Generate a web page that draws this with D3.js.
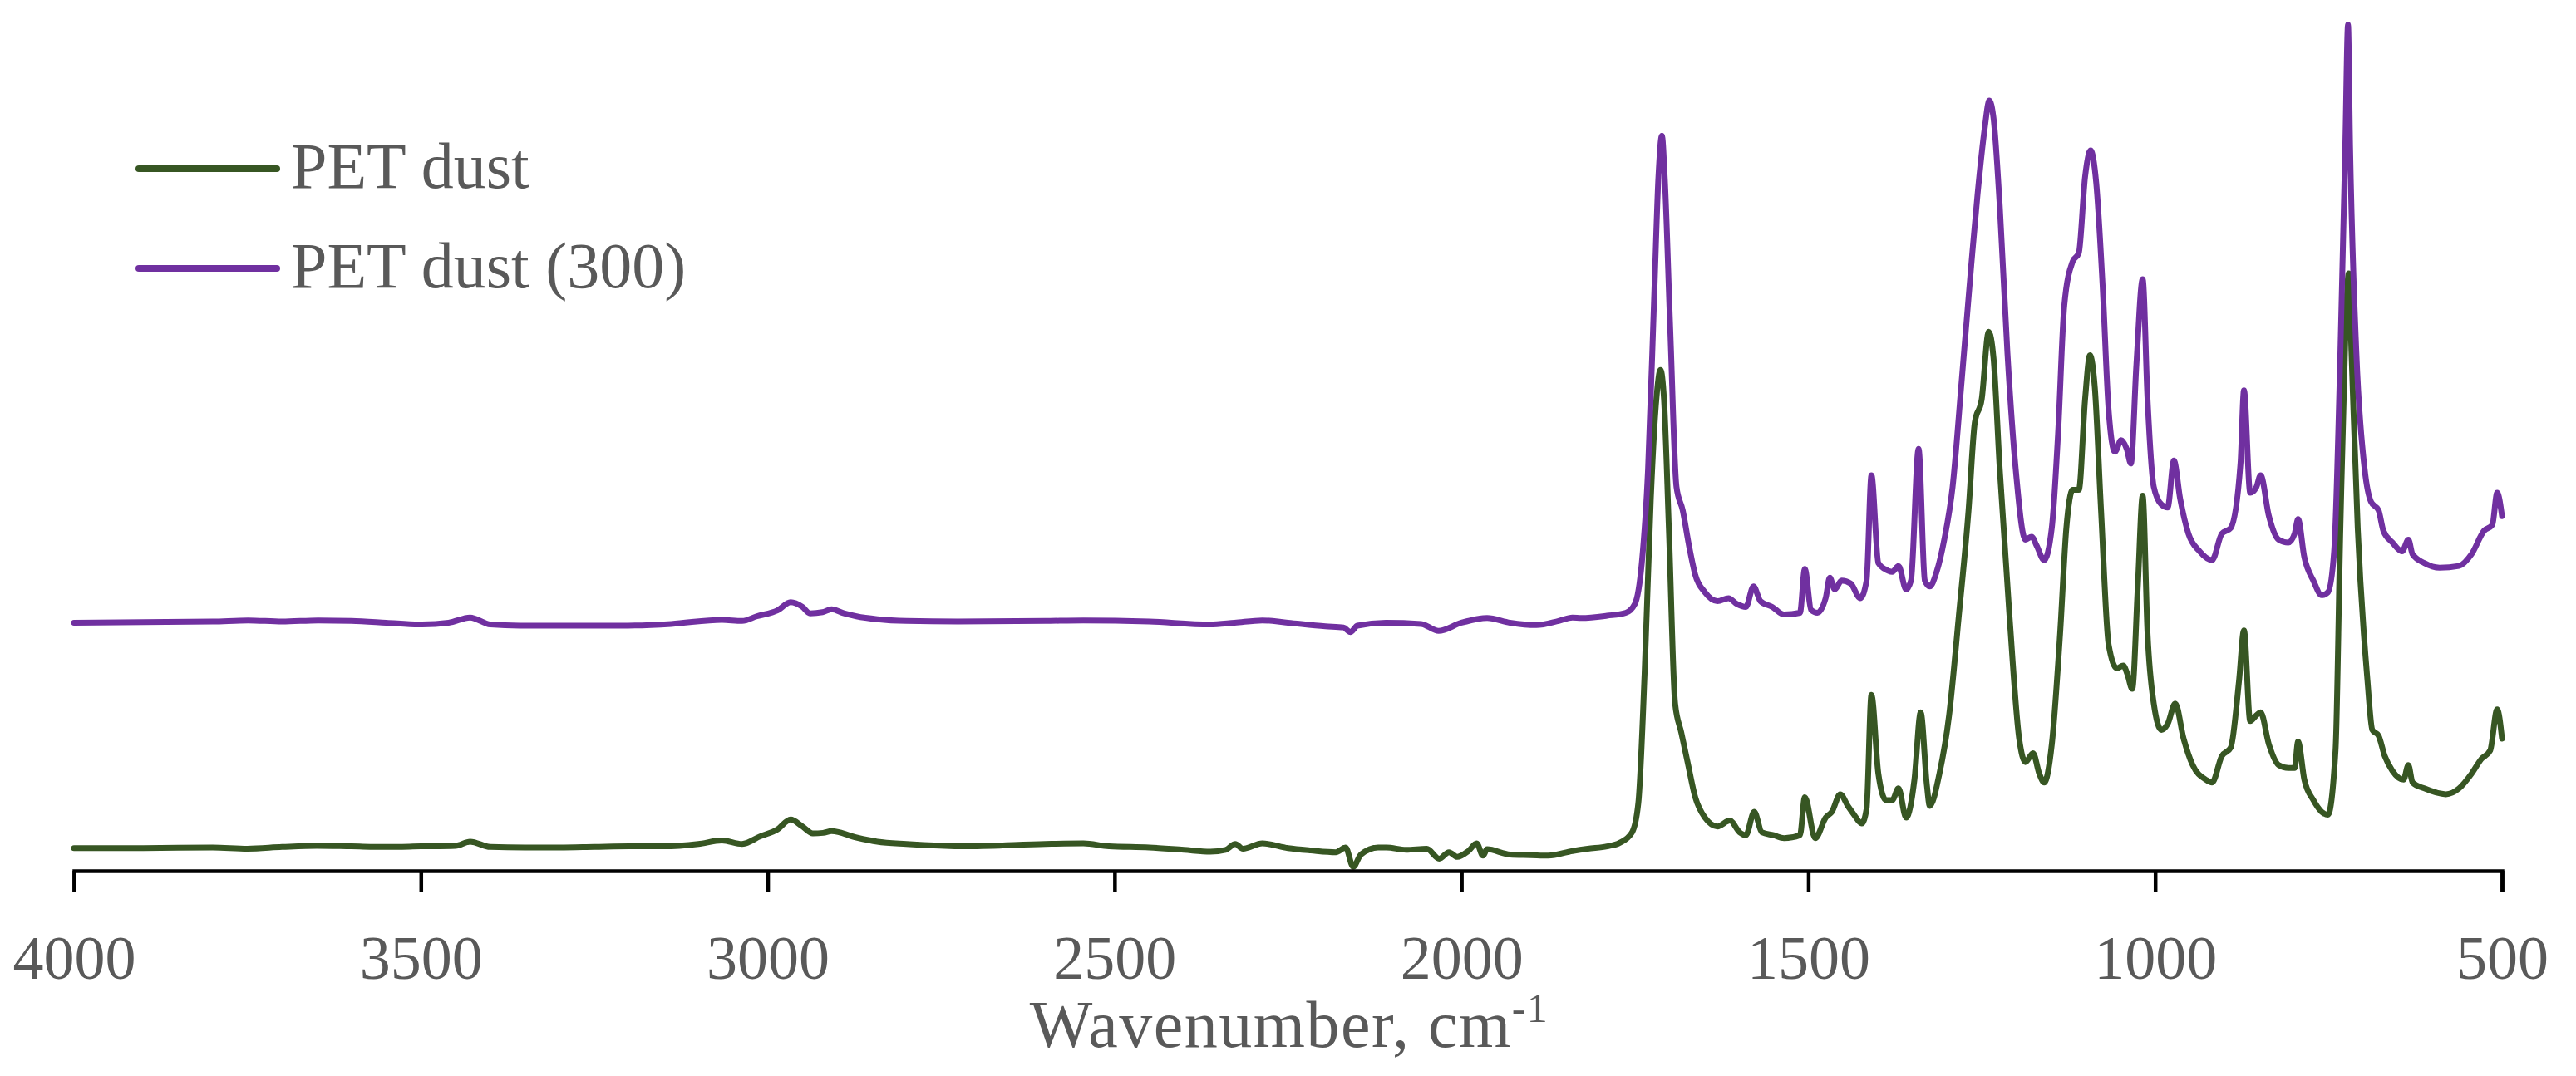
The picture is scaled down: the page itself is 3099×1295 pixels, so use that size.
<!DOCTYPE html>
<html>
<head>
<meta charset="utf-8">
<script src="https://cdn.jsdelivr.net/npm/d3@7"></script>
<style>
  html, body { margin: 0; padding: 0; background: #ffffff; }
  svg { display: block; }
</style>
</head>
<body>
<svg id="chart" width="3099" height="1295"></svg>
<script>
// ---------------- DATA ----------------
const seriesNames = ["PET dust", "PET dust (300)"];
const xTicks = [4000, 3500, 3000, 2500, 2000, 1500, 1000, 500];
const xLabel = "Wavenumber, cm";
const xLabelSup = "-1";

// PET dust (green) : wavenumber (cm-1) and absorbance (arbitrary, offset)
const petWn = [4000,3900,3800,3750,3700,3650,3600,3550,3500,3450,3429,3400,3350,3300,3250,3200,3150,3100,3066,3037,3011,2986,2967,2950,2935,2920,2908,2872,2842,2800,2710,2600,2545,2508,2450,2400,2362,2340,2326,2315,2287,2250,2217,2181,2167,2156,2145,2120,2108,2080,2050,2032,2018,2006,1990,1978,1969,1963,1930,1900,1875,1840,1818,1790,1772,1754,1745,1736,1727,1719,1713,1708,1701,1692,1683,1674,1663,1649,1631,1613,1599,1590,1578,1567,1550,1535,1512,1505,1490,1475,1466,1454,1443,1434,1423,1416,1409,1399,1388,1379,1370,1359,1347,1338,1329,1325,1311,1297,1283,1269,1260,1250,1240,1233,1224,1210,1196,1187,1176,1167,1160,1149,1137,1128,1119,1110,1101,1094,1087,1078,1067,1055,1046,1040,1033,1025,1018,1011,1002,991,982,971,959,946,927,918,904,891,879,872,863,854,848,836,822,808,799,794,785,772,760,751,740,733,726,721,717,708,694,687,678,669,658,642,635,629,612,581,562,544,530,517,507,500];
const petAbs = [0.043,0.043,0.044,0.042,0.045,0.047,0.046,0.045,0.046,0.047,0.054,0.045,0.044,0.044,0.045,0.046,0.046,0.050,0.056,0.050,0.063,0.075,0.092,0.080,0.068,0.069,0.072,0.061,0.054,0.050,0.046,0.050,0.051,0.046,0.044,0.040,0.037,0.040,0.050,0.042,0.051,0.043,0.039,0.036,0.044,0.011,0.032,0.044,0.044,0.040,0.042,0.025,0.036,0.028,0.038,0.051,0.030,0.041,0.032,0.031,0.030,0.038,0.042,0.046,0.052,0.070,0.120,0.340,0.640,0.810,0.860,0.810,0.590,0.290,0.240,0.190,0.130,0.095,0.080,0.090,0.070,0.065,0.105,0.070,0.065,0.060,0.065,0.130,0.060,0.095,0.105,0.135,0.115,0.100,0.085,0.110,0.305,0.170,0.125,0.125,0.145,0.095,0.160,0.275,0.150,0.115,0.170,0.270,0.440,0.620,0.770,0.810,0.925,0.880,0.690,0.440,0.230,0.190,0.205,0.170,0.155,0.220,0.410,0.590,0.655,0.655,0.810,0.885,0.830,0.620,0.390,0.350,0.355,0.340,0.315,0.490,0.645,0.410,0.290,0.245,0.255,0.290,0.230,0.185,0.160,0.155,0.200,0.215,0.330,0.415,0.260,0.270,0.275,0.220,0.185,0.180,0.180,0.225,0.160,0.125,0.105,0.100,0.210,0.590,0.910,1.025,0.890,0.590,0.330,0.245,0.235,0.200,0.175,0.160,0.185,0.155,0.145,0.135,0.145,0.170,0.195,0.210,0.280,0.230];

// PET dust (300) (purple)
const pet300Wn = [4000,3900,3800,3749,3700,3648,3600,3550,3503,3460,3429,3400,3357,3300,3250,3211,3139,3066,3037,3016,2986,2967,2950,2939,2921,2908,2890,2872,2842,2800,2726,2600,2545,2450,2363,2327,2287,2250,2196,2170,2160,2150,2109,2058,2033,2000,1963,1930,1892,1860,1840,1827,1790,1763,1750,1740,1731,1722,1716,1711,1707,1699,1690,1681,1672,1663,1649,1631,1615,1603,1590,1579,1569,1552,1535,1512,1505,1496,1487,1475,1469,1462,1452,1439,1425,1416,1409,1399,1390,1379,1370,1359,1352,1341,1332,1325,1315,1304,1292,1279,1265,1256,1246,1239,1233,1224,1213,1201,1187,1178,1171,1160,1149,1140,1131,1119,1110,1101,1093,1085,1076,1067,1058,1049,1041,1035,1027,1018,1011,1002,991,982,973,964,952,936,918,904,891,877,872,863,854,848,836,822,808,799,794,785,772,760,751,742,733,726,722,719,710,698,689,678,671,658,644,635,629,612,590,562,544,526,514,507,500];
const pet300Abs = [0.428,0.429,0.430,0.432,0.430,0.432,0.431,0.428,0.425,0.428,0.437,0.425,0.423,0.423,0.423,0.423,0.426,0.433,0.431,0.439,0.449,0.463,0.455,0.444,0.446,0.451,0.444,0.439,0.434,0.431,0.430,0.431,0.432,0.430,0.425,0.428,0.432,0.428,0.422,0.420,0.412,0.423,0.428,0.426,0.414,0.428,0.436,0.428,0.424,0.431,0.437,0.436,0.440,0.445,0.460,0.530,0.690,0.990,1.190,1.260,1.190,0.930,0.660,0.620,0.560,0.510,0.480,0.465,0.470,0.460,0.455,0.490,0.465,0.455,0.442,0.445,0.520,0.450,0.445,0.470,0.505,0.485,0.500,0.495,0.470,0.500,0.680,0.530,0.520,0.515,0.525,0.485,0.500,0.725,0.500,0.490,0.515,0.570,0.660,0.840,1.040,1.160,1.270,1.320,1.290,1.140,0.890,0.690,0.570,0.575,0.560,0.535,0.590,0.750,0.970,1.045,1.060,1.190,1.235,1.180,1.010,0.790,0.720,0.740,0.725,0.700,0.870,1.015,0.810,0.660,0.630,0.625,0.705,0.640,0.580,0.550,0.535,0.580,0.590,0.700,0.825,0.650,0.660,0.680,0.610,0.570,0.565,0.580,0.605,0.540,0.500,0.475,0.480,0.550,0.890,1.240,1.450,1.240,0.890,0.690,0.635,0.620,0.585,0.565,0.550,0.570,0.545,0.530,0.522,0.525,0.545,0.585,0.595,0.650,0.610];

const colors = ["#375623", "#7030a0"];

// ---------------- CHART ----------------
const svg = d3.select("#chart");
const axisY = 1048;
const x = d3.scaleLinear().domain([4000, 500]).range([89, 3010]);
const y = d3.scaleLinear().domain([0, 1.46]).range([1051, 1051 - 1.46 * 704.5]);
const serif = "'Liberation Serif', 'Times New Roman', serif";

const series = [
  { name: seriesNames[0], color: colors[0], pts: petWn.map((w, i) => [w, petAbs[i]]) },
  { name: seriesNames[1], color: colors[1], pts: pet300Wn.map((w, i) => [w, pet300Abs[i]]) }
];

const line = d3.line()
  .x(d => x(d[0]))
  .y(d => y(d[1]))
  .curve(d3.curveMonotoneX);

svg.append("g").selectAll("path")
  .data(series)
  .join("path")
  .attr("d", d => line(d.pts))
  .attr("fill", "none")
  .attr("stroke", d => d.color)
  .attr("stroke-width", 7)
  .attr("stroke-linejoin", "round")
  .attr("stroke-linecap", "round");

// X axis
const axis = d3.axisBottom(x)
  .tickValues(xTicks)
  .tickSize(25)
  .tickSizeOuter(25)
  .tickFormat(d3.format("d"));

const gx = svg.append("g")
  .attr("transform", `translate(0,${axisY})`)
  .call(axis);
gx.select(".domain").attr("stroke", "#000").attr("stroke-width", 4.5).attr("fill", "none");
gx.selectAll(".tick line").attr("stroke", "#000").attr("stroke-width", 4.5);
gx.selectAll(".tick text")
  .attr("y", 130)
  .attr("dy", 0)
  .attr("fill", "#595959")
  .style("font-family", serif)
  .style("font-size", "74px");

// X axis title
const title = svg.append("text")
  .attr("x", 1551)
  .attr("y", 1260)
  .attr("text-anchor", "middle")
  .attr("fill", "#595959")
  .style("font-family", serif)
  .style("font-size", "80px")
  .style("letter-spacing", "1.5px");
title.append("tspan").text(xLabel);
title.append("tspan")
  .attr("dy", -30)
  .style("font-size", "50px")
  .text(xLabelSup);

// Legend
const legend = svg.append("g");
const legendRows = [203, 323];
series.forEach((s, i) => {
  legend.append("line")
    .attr("x1", 167).attr("x2", 333)
    .attr("y1", legendRows[i]).attr("y2", legendRows[i])
    .attr("stroke", s.color)
    .attr("stroke-width", 8)
    .attr("stroke-linecap", "round");
  legend.append("text")
    .attr("x", 350)
    .attr("y", legendRows[i] + 23)
    .attr("fill", "#595959")
    .style("font-family", serif)
    .style("font-size", "78px")
    .text(s.name);
});
</script>
</body>
</html>
